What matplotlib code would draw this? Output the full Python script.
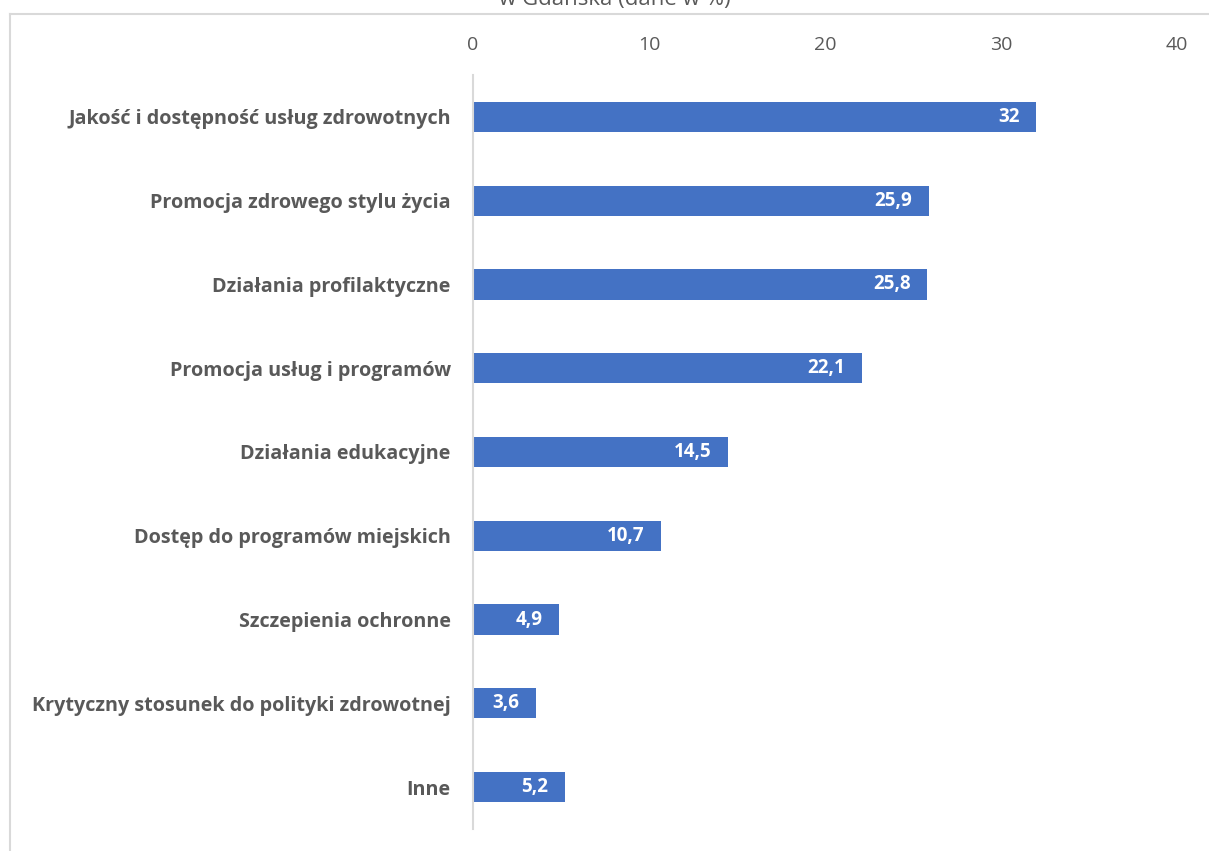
import matplotlib
matplotlib.use("Agg")
import matplotlib.pyplot as plt
from matplotlib.lines import Line2D

categories = [
    "Jakość i dostępność usług zdrowotnych",
    "Promocja zdrowego stylu życia",
    "Działania profilaktyczne",
    "Promocja usług i programów",
    "Działania edukacyjne",
    "Dostęp do programów miejskich",
    "Szczepienia ochronne",
    "Krytyczny stosunek do polityki zdrowotnej",
    "Inne",
]
values = [32, 25.9, 25.8, 22.1, 14.5, 10.7, 4.9, 3.6, 5.2]
xticks = [0, 10, 20, 30, 40]
title_text = "w Gdańska (dane w %)"

W, H = 1209, 851
fig = plt.figure(figsize=(W / 100, H / 100), dpi=100)
fig.patch.set_facecolor("white")

font = "Open Sans"
gray = "#595959"
blue = "#4472C4"

# chart border (partially visible, as in the crop)
fig.add_artist(Line2D([10 / W, 10 / W], [0, 1 - 14 / H], transform=fig.transFigure,
                      color="#d9d9d9", lw=1.5))
fig.add_artist(Line2D([10 / W, 1], [1 - 14 / H, 1 - 14 / H], transform=fig.transFigure,
                      color="#d9d9d9", lw=1.5))

# cut-off title
fig.text(615 / W, 1 + 1 / H, title_text, ha="center", va="center",
         fontsize=16, color=gray, family=font)

ax = fig.add_axes([473 / W, 1 - 829 / H, (1177 - 473) / W, (829 - 75) / H])
y = list(range(len(categories)))
ax.barh(y, values, height=0.36, color=blue)
ax.set_ylim(len(categories) - 0.5, -0.5)
ax.set_xlim(0, 40)

ax.xaxis.tick_top()
ax.set_xticks(xticks)
ax.set_xticklabels([str(t) for t in xticks], fontsize=14, color=gray, family=font)
ax.tick_params(axis="x", length=0, pad=15)
ax.set_yticks(y)
ax.set_yticklabels(categories, fontsize=14.2, color=gray, family=font, fontweight="bold")
ax.tick_params(axis="y", length=0, pad=16)

for s in ["top", "right", "bottom"]:
    ax.spines[s].set_visible(False)
ax.spines["left"].set_color("#d9d9d9")
ax.spines["left"].set_linewidth(1.5)

for yi, v in zip(y, values):
    label = f"{v:g}".replace(".", ",")
    ax.annotate(label, xy=(v, yi), xytext=(-12, 0), textcoords="offset points",
                ha="right", va="center", color="white", fontsize=13.5,
                fontweight="bold", family=font)

fig.savefig("out.png", dpi=100)
